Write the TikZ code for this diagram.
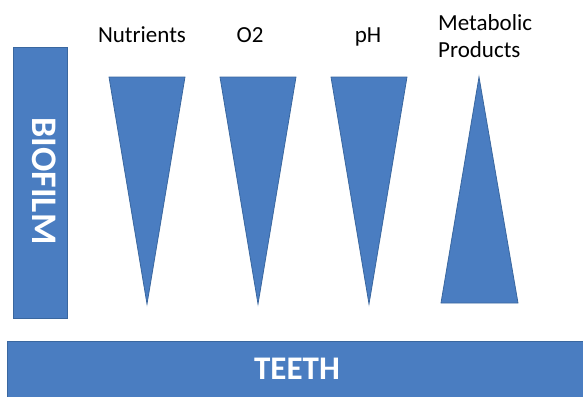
\documentclass[tikz,border=0pt]{standalone}
\usepackage{fontspec}
\setmainfont{Carlito}
\usetikzlibrary{positioning}
\definecolor{boxblue}{HTML}{4A7DC1}
\definecolor{edgeblue}{HTML}{3A679F}

\begin{document}
\begin{tikzpicture}[x=1pt,y=-1pt,
  blueshape/.style={fill=boxblue,draw=edgeblue,line width=0.8pt},
  lbl/.style={font=\fontsize{23}{27}\selectfont,inner sep=0pt}]
\useasboundingbox (0,0) rectangle (583,396);
\begin{scope}
\clip (0,0) rectangle (583,396);
% teeth bar and biofilm bar
\draw[blueshape] (7,341) rectangle (600,420);
\draw[blueshape] (13,47) rectangle (67,318);
\end{scope}
\node[text=white,font=\bfseries\fontsize{36}{36}\selectfont,rotate=-90] (biofilm) at (44,181) {BIOFILM};
\node[text=white,font=\bfseries\fontsize{33}{33}\selectfont] (teeth) at (297,368.5) {TEETH};
% decreasing gradients
\foreach \x/\name in {147/nutri,258/oxy,369/ph} {
  \draw[blueshape] (\x-38,77) -- (\x+38,77) -- (\x,304) -- cycle;
  \coordinate (\name) at (\x,77);
}
% increasing gradient
\draw[blueshape] (479,77) -- (518,303) -- (441,303) -- cycle;
\coordinate (meta) at (479,77);
\node[lbl,anchor=base] (nutrilbl) at (142,43) {Nutrients};
\node[lbl,anchor=base] (oxylbl) at (250,43) {O2};
\node[lbl,anchor=base] (phlbl) at (368,43) {pH};
\node[lbl,anchor=base west,align=left] (metalbl) at (438,57) {Metabolic\\Products};
\end{tikzpicture}
\end{document}
